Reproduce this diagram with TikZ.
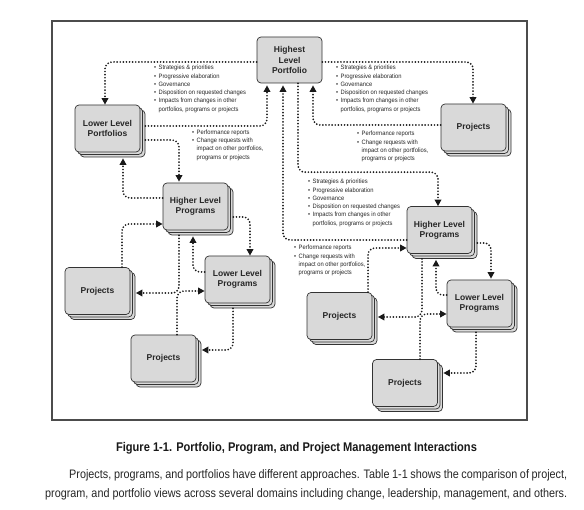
\documentclass[tikz,border=0pt]{standalone}
\usepackage{fontspec}
\setmainfont{Liberation Sans}
\newfontfamily\narrowfont{Liberation Sans}[FakeStretch=0.88]
\newfontfamily\smallfont{Liberation Sans}[FakeStretch=0.92]
\usetikzlibrary{arrows.meta,shadows,calc}
\newcommand\myb{\makebox[4.5pt][l]{\textbullet}}
\newcommand\myi{\hspace*{4.5pt}}
\begin{document}
\begin{tikzpicture}[x=1pt,y=-1pt,
  box/.style={draw=black!80, line width=0.7pt, fill=black!15, rounded corners=4pt,
    minimum width=65pt, minimum height=47pt, inner sep=0pt, align=center,
    font=\fontsize{8.5}{10.3}\selectfont\bfseries, text=black!85},
  stack/.style={box, double copy shadow={shadow xshift=2.5pt, shadow yshift=-2.5pt}},
  dl/.style={line width=1.9pt, dash pattern=on 0pt off 3.1pt, line cap=round,
    rounded corners=7pt, black!90, -{Triangle[length=6.5pt,width=6.5pt]}},
  txt/.style={anchor=north west, inner sep=0pt, align=left,
    font=\smallfont\fontsize{6.3}{8.3}\selectfont, text=black!85},
  para/.style={anchor=west, inner sep=0pt, font=\narrowfont\fontsize{12.3}{14}\selectfont, text=black!85}
]
\fill[white] (0,0) rectangle (584,510);
\path[use as bounding box] (0,0) rectangle (584,510);
\draw[black!70, line width=1.2pt] (52,21) rectangle (527,420);

% nodes
\node[box, minimum height=46pt] (hp) at (289.5,60) {Highest\\Level\\Portfolio};
\node[stack] (llpo) at (107.5,128.5) {Lower Level\\Portfolios};
\node[stack] (ptr) at (473.5,127.5) {Projects};
\node[stack] (hlpl) at (195.5,206.5) {Higher Level\\Programs};
\node[stack] (llpl) at (237.5,279.5) {Lower Level\\Programs};
\node[stack] (pl) at (97.5,291) {Projects};
\node[stack] (pbl) at (163.5,358.5) {Projects};
\node[stack] (hlpr) at (439.5,230) {Higher Level\\Programs};
\node[stack] (llpr) at (479.5,303.5) {Lower Level\\Programs};
\node[stack] (pr) at (339.5,316) {Projects};
\node[stack] (pbr) at (405,383) {Projects};

% connectors
\draw[dl] ($(hp.west)+(0,2)$) -| ($(llpo.north)+(-2.5,0)$);
\draw[dl] ($(llpo.east)+(5,-2.5)$) -| ($(hp.south)+(-22.5,2)$);
\draw[dl] ($(hp.east)+(0,2)$) -| ($(ptr.north)+(-0.5,0)$);
\draw[dl] ($(ptr.west)+(0,-2.5)$) -| ($(hp.south)+(23.5,2)$);
\draw[dl] ($(llpo.east)+(5,11.5)$) -| ($(hlpl.north)+(-16.5,-1)$);
\draw[dl] ($(hlpl.west)+(0,-8.5)$) -| ($(llpo.south)+(15.5,6)$);
\draw[dl] ($(hp.south)+(8.5,0)$) |- ($(hlpr.north)+(-1.5,-34)$) -- ($(hlpr.north)+(-1.5,0)$);
\draw[dl] ($(hlpr.west)+(0,10)$) -| ($(hp.south)+(-6.5,2)$);
\draw[dl] ($(hlpl.east)+(5,10.5)$) -| ($(llpl.north)+(12.5,0)$);
\draw[dl] ($(llpl.west)+(0,-7.5)$) -| ($(hlpl.south)+(-2.5,6)$);
\draw[dl] ($(hlpl.south)+(-16.5,5)$) |- ($(pl.east)+(5.5,2)$);
\draw[dl] ($(pl.north)+(24.5,0)$) |- ($(hlpl.west)+(0,17.5)$);
\draw[dl] ($(pbl.north)+(13.5,0)$) |- ($(llpl.west)+(0,11.5)$);
\draw[dl] ($(llpl.south)+(-4.5,5)$) |- ($(pbl.east)+(5.5,-8.5)$);
\draw[dl] ($(pr.north)+(28.5,0)$) |- ($(hlpr.west)+(0,18)$);
\draw[dl] ($(hlpr.east)+(5,13)$) -| ($(llpr.north)+(11.5,-1)$);
\draw[dl] ($(llpr.west)+(0,-8.5)$) -| ($(hlpr.south)+(-3.5,6)$);
\draw[dl] ($(hlpr.south)+(-17.5,5)$) |- ($(pr.east)+(5.5,1)$);
\draw[dl] ($(pbr.north)+(15,0)$) |- ($(llpr.west)+(0,10.5)$);
\draw[dl] ($(llpr.south)+(-3.5,5)$) |- ($(pbr.east)+(5.5,-10)$);

% texts
\node[txt] (t1) at (154,65) {\myb Strategies \& priorities\\\myb Progressive elaboration\\\myb Governance\\\myb Disposition on requested changes\\\myb Impacts from changes in other\\\myi portfolios, programs or projects};
\node[txt] (t2) at (192,129.5) {\myb Performance reports\\\myb Change requests with\\\myi impact on other portfolios,\\\myi programs or projects};
\node[txt] (t3) at (336,65) {\myb Strategies \& priorities\\\myb Progressive elaboration\\\myb Governance\\\myb Disposition on requested changes\\\myb Impacts from changes in other\\\myi portfolios, programs or projects};
\node[txt] (t4) at (357,131) {\myb Performance reports\\\myb Change requests with\\\myi impact on other portfolios,\\\myi programs or projects};
\node[txt] (t5) at (308,179) {\myb Strategies \& priorities\\\myb Progressive elaboration\\\myb Governance\\\myb Disposition on requested changes\\\myb Impacts from changes in other\\\myi portfolios, programs or projects};
\node[txt] (t6) at (294,245) {\myb Performance reports\\\myb Change requests with\\\myi impact on other portfolios,\\\myi programs or projects};

% caption
\node[inner sep=0pt, font=\narrowfont\bfseries\fontsize{12.6}{14}\selectfont, text=black!90] (cap) at (296.5,448) {Figure 1-1. Portfolio, Program, and Project Management Interactions};
\node[para] (p1) at (69,475) {\makebox[498pt][s]{Projects, programs, and portfolios have different approaches. Table 1-1 shows the comparison of project,}};
\node[para] (p2) at (45,494) {\makebox[522pt][s]{program, and portfolio views across several domains including change, leadership, management, and others.}};
\end{tikzpicture}
\end{document}
